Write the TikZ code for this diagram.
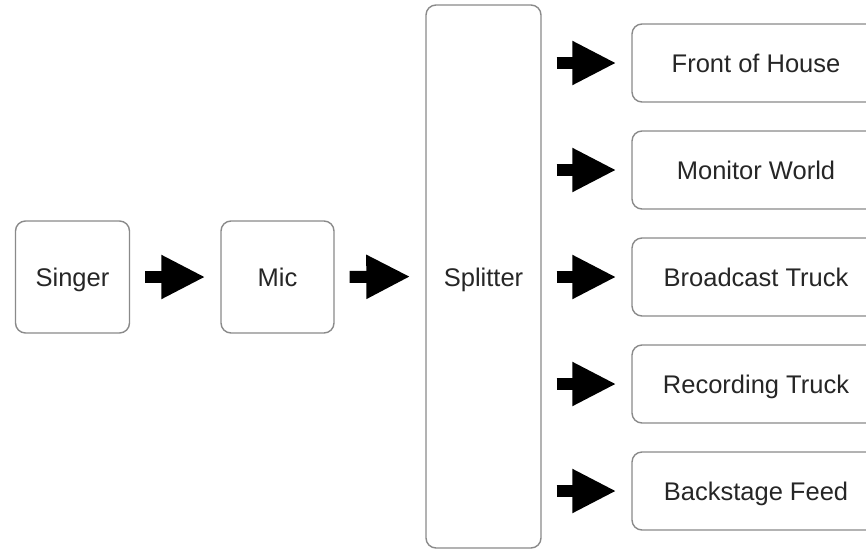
\documentclass[tikz,border=0pt]{standalone}
\usepackage{fontspec}
\setmainfont{Liberation Sans}
\usetikzlibrary{arrows.meta}
\definecolor{boxgray}{HTML}{8A8A8A}
\definecolor{txt}{HTML}{262626}
\tikzset{
  box/.style={draw=boxgray, line width=1.4pt, rounded corners=10pt, fill=white,
    text=txt, font=\fontsize{25.5}{30}\selectfont, inner sep=0pt,
    text height=22pt, text depth=3pt},
  fat/.style={line width=12pt, -{Triangle[length=44pt,width=41pt]}, shorten <=15pt, shorten >=15pt}
}
\begin{document}
\begin{tikzpicture}[x=1pt,y=-1pt]
\useasboundingbox (0,0) rectangle (866,549);
\clip (0,0) rectangle (866,549);
\node[box, minimum width=114pt, minimum height=112pt] (singer) at (72.5,277) {Singer};
\node[box, minimum width=113pt, minimum height=112pt] (mic) at (277.5,277) {Mic};
\node[box, minimum width=115pt, minimum height=543pt] (split) at (483.5,276.5) {Splitter};
\node[box, minimum width=248pt, minimum height=78pt] (foh) at (756,63) {Front of House};
\node[box, minimum width=248pt, minimum height=78pt] (mon) at (756,170) {Monitor World};
\node[box, minimum width=248pt, minimum height=78pt] (bc) at (756,277) {Broadcast Truck};
\node[box, minimum width=248pt, minimum height=78pt] (rec) at (756,384) {Recording Truck};
\node[box, minimum width=248pt, minimum height=78pt] (bs) at (756,491) {Backstage Feed};
\draw[fat] (singer.east) -- (mic.west);
\draw[fat] (mic.east) -- (split.west);
\foreach \n in {foh,mon,bc,rec,bs}{
  \draw[fat] (split.east |- \n.west) -- (\n.west);
}
\end{tikzpicture}
\end{document}
